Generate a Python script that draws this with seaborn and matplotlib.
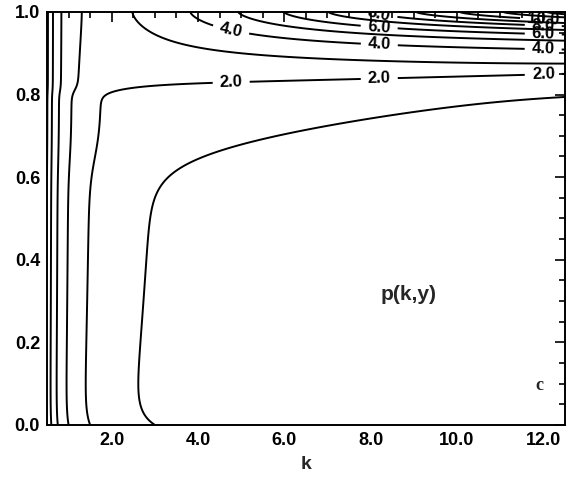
import numpy as np
import matplotlib
matplotlib.use("Agg")
import matplotlib.pyplot as plt
import seaborn as sns
from matplotlib.ticker import MultipleLocator

sns.set_theme(style="white")
plt.rcParams['font.family'] = ['Liberation Sans', 'DejaVu Sans']

# ---- data -------------------------------------------------------------
k_range = [0.5, 12.5]
y_range = [0.0, 1.0]
plain_levels = [1, 3, 5, 7, 9, 11, 12]
label_levels = [2, 4, 6, 8, 10]
# where the contour labels sit (k, y)
label_k = [4.77, 8.2, 12.0, 4.77, 8.2, 12.0, 8.2, 12.0, 8.2, 12.0, 12.0]
label_y = [0.825, 0.84, 0.855, 0.959, 0.917, 0.915, 0.966, 0.942, 0.996, 0.964, 0.988]
x_ticks = [2, 4, 6, 8, 10, 12]
x_ticklabels = ["2.0", "4.0", "6.0", "8.0", "10.0", "12.0"]
y_ticks = [0.0, 0.2, 0.4, 0.6, 0.8, 1.0]
y_ticklabels = ["0.0", "0.2", "0.4", "0.6", "0.8", "1.0"]

# field p(k,y), parameters
p0 = 3.0                                               # p(k,0) = p0 / k
low_params = [1.0629, 0.6359, 0.0381, 4.5520]          # M, y1, w1, k1
high_params = [1.0952, 0.5046, 1.5382, 0.1014, 0.8245, 0.0078, 0.0034]  # g0, sg, m, c, y2, w2, b
dip_param = 0.1975


def sig(x):
    return 1.0 / (1.0 + np.exp(-x))


def p_field(k, y):
    M, y1, w1, k1 = low_params
    g0, sg, m, c, y2, w2, b = high_params
    t_low = M * sig((y - y1) / w1) * k / (k + k1)
    G = sg * np.log1p(np.exp((k - g0) / sg))
    H = sig((y - (y2 + b * (k - 6.0))) / w2)
    t_high = G * H / (1.0 + G * (1.0 - y) ** m / c)
    dip = dip_param * (1 - np.exp(-y / 0.04)) * (1 - y) ** 2
    return p0 / k + t_low + t_high - dip


kk = np.linspace(k_range[0], k_range[1], 800)
yy = np.linspace(y_range[0], y_range[1], 600)
KK, YY = np.meshgrid(kk, yy)
Z = p_field(KK, YY)

# ---- plot -------------------------------------------------------------
fig = plt.figure(figsize=(5.69, 4.78), dpi=100)
ax = fig.add_axes([0.0826, 0.111, 0.910, 0.864])
ax.contour(KK, YY, Z, levels=plain_levels, colors='black', linewidths=1.4)
cs = ax.contour(KK, YY, Z, levels=label_levels, colors='black', linewidths=1.4)

plt.rcParams['font.weight'] = 'bold'
texts = ax.clabel(cs, inline=True, inline_spacing=7, fmt='%.1f', fontsize=12,
                  manual=list(zip(label_k, label_y)))
plt.rcParams['font.weight'] = 'normal'
for t in texts:
    t.set_fontweight('bold')
    t.set_color('black')

ax.set_xlim(*k_range)
ax.set_ylim(*y_range)
ax.xaxis.set_minor_locator(MultipleLocator(0.5))
ax.yaxis.set_minor_locator(MultipleLocator(0.05))
ax.tick_params(which='both', direction='in', top=True, right=True, width=1.2, colors='black')
ax.tick_params(which='major', length=7, labelsize=13, pad=5)
ax.tick_params(which='minor', length=4)
ax.set_xticks(x_ticks)
ax.set_xticklabels(x_ticklabels, fontweight='bold')
ax.set_yticks(y_ticks)
ax.set_yticklabels(y_ticklabels, fontweight='bold')
ax.set_xlabel("k", fontsize=14, fontweight='bold', labelpad=5)
for s in ax.spines.values():
    s.set_color('black')
    s.set_linewidth(1.4)
ax.grid(False)
ax.text(8.88, 0.315, "p(k,y)", fontsize=15, fontweight='bold', ha='center', va='center')
ax.text(11.9, 0.095, "c", fontsize=13, fontweight='bold', ha='center', va='center',
        family=['Liberation Serif', 'DejaVu Serif'])
fig.savefig("out.png", dpi=100, facecolor='white')
